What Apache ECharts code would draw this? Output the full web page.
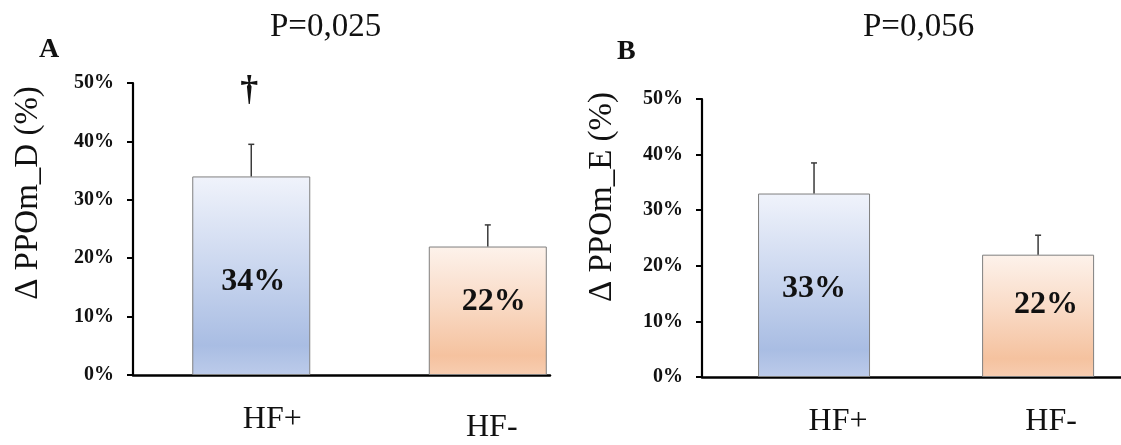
<!DOCTYPE html>
<html>
<head>
<meta charset="utf-8">
<script src="https://cdn.jsdelivr.net/npm/echarts@6/dist/echarts.min.js"></script>
<style>
  html, body { margin: 0; padding: 0; background: #fff; }
  #main { width: 1121px; height: 445px; }
</style>
</head>
<body>
<div id="main"></div>
<script>
// data
var categories = ['HF+', 'HF-'];
var yTicks = [0, 10, 20, 30, 40, 50];
var meanD = [34, 22];      // panel A, bar heights (%)
var errTopD = [39.5, 25.7]; // panel A, upper end of the error bar (%)
var meanE = [33, 22];      // panel B
var errTopE = [38.5, 25.5];
var markD = ['\u2020', '']; // dagger above HF+ in panel A
var markLevel = 48.6;

var serif = '"Liberation Serif", "Times New Roman", serif';

var chartDom = document.getElementById('main');
var box = echarts.init(chartDom);

function blueFill() {
  return new echarts.graphic.LinearGradient(0, 0, 0, 1, [
    { offset: 0, color: '#f0f3fb' },
    { offset: 0.45, color: '#cbd7ef' },
    { offset: 0.85, color: '#a9bde3' },
    { offset: 1, color: '#bccbea' }
  ]);
}
function orangeFill() {
  return new echarts.graphic.LinearGradient(0, 0, 0, 1, [
    { offset: 0, color: '#fdf2eb' },
    { offset: 0.45, color: '#f9dac5' },
    { offset: 0.85, color: '#f5c29f' },
    { offset: 1, color: '#f7cdb1' }
  ]);
}

function pairs(vals) {
  return vals.map(function (v, i) { return [i, v]; });
}
function triples(means, tops) {
  return means.map(function (v, i) { return [i, v, tops[i]]; });
}

function barSeries(idx, vals, width, offsets) {
  var fills = [blueFill(), orangeFill()];
  return {
    type: 'bar',
    xAxisIndex: idx,
    yAxisIndex: idx,
    barWidth: width,
    data: pairs(vals).map(function (p, i) {
      return {
        value: p,
        itemStyle: { color: fills[i], borderColor: '#7f7f7f', borderWidth: 1 },
        label: { offset: offsets[i] }
      };
    }),
    label: {
      show: true,
      position: 'inside',
      formatter: function (p) { return p.value[1] + '%'; },
      fontFamily: serif,
      fontWeight: 'bold',
      fontSize: 32,
      color: '#111'
    },
    z: 2
  };
}

function errSeries(idx, means, tops, marks) {
  return {
    type: 'custom',
    xAxisIndex: idx,
    yAxisIndex: idx,
    data: triples(means, tops),
    encode: { x: 0, y: 2 },
    renderItem: function (params, api) {
      var x = api.value(0);
      var a = api.coord([x, api.value(1)]);
      var b = api.coord([x, api.value(2)]);
      var kids = [
        { type: 'line', shape: { x1: a[0], y1: a[1], x2: b[0], y2: b[1] },
          style: { stroke: '#3a3a3a', lineWidth: 1.5 } },
        { type: 'line', shape: { x1: b[0] - 3, y1: b[1], x2: b[0] + 3, y2: b[1] },
          style: { stroke: '#3a3a3a', lineWidth: 1.5 } }
      ];
      var m = marks && marks[params.dataIndex];
      if (m) {
        var c = api.coord([x, markLevel]);
        kids.push({ type: 'text', x: c[0] - 2, y: c[1],
          style: { text: m, fontFamily: serif, fontWeight: 'bold', fontSize: 36,
                   fill: '#111', align: 'center', verticalAlign: 'middle' } });
      }
      return { type: 'group', children: kids };
    },
    z: 3
  };
}

function xAxisFor(idx, maxVal, rich) {
  return {
    type: 'value',
    gridIndex: idx,
    min: -0.5,
    max: maxVal,
    interval: 0.5,
    splitLine: { show: false },
    axisTick: { show: false },
    axisLine: { onZero: false, lineStyle: { color: '#000', width: 2.5 } },
    axisLabel: {
      margin: 29,
      showMinLabel: false,
      showMaxLabel: false,
      formatter: function (v) {
        var i = Math.round(v);
        if (Math.abs(v - i) > 1e-6 || !categories[i]) return '';
        return '{c' + i + '|' + categories[i] + '}';
      },
      rich: rich
    }
  };
}

function yAxisFor(idx, name, gap, shift) {
  return {
    type: 'value',
    gridIndex: idx,
    min: 0,
    max: 50,
    interval: 10,
    name: name,
    nameLocation: 'middle',
    nameGap: gap,
    nameTextStyle: {
      fontFamily: serif, fontSize: 33, color: '#111',
      padding: [0, 0, 0, shift]
    },
    splitLine: { show: false },
    axisLine: { show: true, onZero: false, lineStyle: { color: '#000', width: 2.2 } },
    axisTick: { show: true, length: 6, lineStyle: { color: '#000', width: 2 } },
    axisLabel: {
      margin: 19,
      fontFamily: serif, fontWeight: 'bold', fontSize: 20, color: '#111',
      formatter: function (v) { return yTicks.indexOf(v) >= 0 ? v + '%' : ''; }
    }
  };
}

var lblBase = { fontFamily: serif, fontSize: 32, color: '#111' };

var option = {
  backgroundColor: '#fff',
  animation: false,
  title: [
    { text: 'P=0,025', left: 265, top: 6,
      textStyle: { fontFamily: serif, fontSize: 33, fontWeight: 'normal', color: '#111' } },
    { text: 'A', left: 34, top: 31,
      textStyle: { fontFamily: serif, fontSize: 28, fontWeight: 'bold', color: '#111' } },
    { text: 'P=0,056', left: 858, top: 6,
      textStyle: { fontFamily: serif, fontSize: 33, fontWeight: 'normal', color: '#111' } },
    { text: 'B', left: 612, top: 33,
      textStyle: { fontFamily: serif, fontSize: 28, fontWeight: 'bold', color: '#111' } }
  ],
  grid: [
    { left: 133, top: 83, right: 571, bottom: 70 },
    { left: 702, top: 99, right: 0, bottom: 68 }
  ],
  xAxis: [
    xAxisFor(0, 1.263, {
      c0: Object.assign({ padding: [0, 0, 0, 42] }, lblBase),
      c1: Object.assign({ padding: [8, 0, 0, 8] }, lblBase)
    }),
    xAxisFor(1, 1.37, {
      c0: Object.assign({ padding: [0, 0, 0, 48] }, lblBase),
      c1: Object.assign({ padding: [0, 0, 0, 26] }, lblBase)
    })
  ],
  yAxis: [
    yAxisFor(0, '\u0394 PPOm_D (%)', 88, 72),
    yAxisFor(1, '\u0394 PPOm_E (%)', 83, 82)
  ],
  series: [
    barSeries(0, meanD, 118, [[2, 6], [6, -9]]),
    errSeries(0, meanD, errTopD, markD),
    barSeries(1, meanE, 112, [[0, 3], [8, -11]]),
    errSeries(1, meanE, errTopE, null)
  ]
};

box.setOption(option);
</script>
</body>
</html>
